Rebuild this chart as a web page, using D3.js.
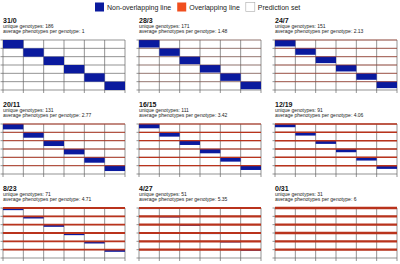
<!DOCTYPE html>
<html lang="en">
  <head>
    <meta charset="UTF-8" />
    <title>Training set designs</title>
    <style>
      body {
        margin: 0;
        background: #fff;
        font-family: "Liberation Sans", Arial, sans-serif;
      }
      svg {
        display: block;
      }
      .grid line {
        stroke: #666;
        stroke-width: 0.7px;
      }
      .title {
        font-weight: bold;
        font-size: 7px;
        fill: #111;
      }
      .info {
        font-size: 5px;
        fill: #222;
      }
      .legend text {
        font-size: 7px;
        fill: #222;
      }
    </style>
  </head>
  <body>
    <svg id="chart"></svg>

    <script src="https://d3js.org/d3.v7.min.js"></script>
    <script>
      const width = 400;
      const height = 264;

      // one panel per design: non-overlapping / overlapping lines per environment
      const nonOverlapping = [31, 28, 24, 20, 16, 12, 8, 4, 0];
      const overlapping = [0, 3, 7, 11, 15, 19, 23, 27, 31];
      const uniqueGenotypes = [186, 171, 151, 131, 111, 91, 71, 51, 31];
      const avgPhenotypes = ["1", "1.48", "2.13", "2.77", "3.42", "4.06", "4.71", "5.35", "6"];
      const environments = [0, 1, 2, 3, 4, 5];
      const legendItems = ["Non-overlapping line", "Overlapping line", "Prediction set"];

      const blue = "#0a1a9e";
      const red = "#b9331c";
      const legendColors = [blue, "#f04e1e", "#ffffff"];

      const linesPerEnv = 31;
      const panelW = 122;
      const panelH = 50;
      const colStep = 136;
      const rowStep = 84;
      const left0 = 3;
      const top0 = 40;

      const svg = d3
        .select("#chart")
        .attr("width", width)
        .attr("height", height)
        .attr("viewBox", `0 0 ${width} ${height}`);

      // legend, laid out left to right from measured text widths
      const legend = svg
        .append("g")
        .attr("class", "legend")
        .selectAll("g")
        .data(legendItems)
        .join("g");

      legend
        .append("rect")
        .attr("width", 9)
        .attr("height", 9)
        .attr("y", 2.5)
        .attr("fill", (d, i) => legendColors[i])
        .attr("stroke", (d, i) => (i === 2 ? "#aaa" : "none"))
        .attr("stroke-width", 0.6);

      legend
        .append("text")
        .attr("x", 12)
        .attr("y", 9.5)
        .text((d) => d);

      let lx = 95;
      legend.each(function () {
        const w = d3.select(this).select("text").node().getComputedTextLength();
        d3.select(this).attr("transform", `translate(${lx},0)`);
        lx += 12 + w + 6;
      });

      nonOverlapping.forEach((n, p) => {
        const m = overlapping[p];
        const px = left0 + (p % 3) * colStep;
        const py = top0 + Math.floor(p / 3) * rowStep;

        const x = d3.scaleLinear().domain([0, 6]).range([px, px + panelW]);
        const y = d3.scaleLinear().domain([0, 6]).range([py, py + panelH]);
        const rowH = y(1) - y(0);

        const g = svg.append("g");

        g.append("text")
          .attr("class", "title")
          .attr("x", px)
          .attr("y", py - 17.5)
          .text(`${n}/${m}`);

        g.append("text")
          .attr("class", "info")
          .attr("x", px)
          .attr("y", py - 12)
          .text(`unique genotypes: ${uniqueGenotypes[p]}`);

        g.append("text")
          .attr("class", "info")
          .attr("x", px)
          .attr("y", py - 7)
          .text(`average phenotypes per genotype: ${avgPhenotypes[p]}`);

        // grid with outward ticks
        const grid = g.append("g").attr("class", "grid");
        const ticks = d3.range(7);

        grid
          .selectAll("line.v")
          .data(ticks)
          .join("line")
          .attr("class", "v")
          .attr("x1", (d) => x(d))
          .attr("x2", (d) => x(d))
          .attr("y1", y(0))
          .attr("y2", y(6) + 3);

        grid
          .selectAll("line.h")
          .data(ticks)
          .join("line")
          .attr("class", "h")
          .attr("x1", x(0) - 2.5)
          .attr("x2", x(6))
          .attr("y1", (d) => y(d))
          .attr("y2", (d) => y(d));

        // non-overlapping lines: one block per environment
        if (n > 0) {
          g.selectAll("rect.blk")
            .data(environments)
            .join("rect")
            .attr("class", "blk")
            .attr("x", (d) => x(d))
            .attr("y", (d) => y(d))
            .attr("width", x(1) - x(0))
            .attr("height", (rowH * n) / linesPerEnv)
            .attr("fill", blue);
        }

        // overlapping lines: shared by all environments
        if (m > 0) {
          g.selectAll("line.ov")
            .data(environments)
            .join("line")
            .attr("class", "ov")
            .attr("x1", x(0))
            .attr("x2", x(6))
            .attr("y1", (d) => y(d))
            .attr("y2", (d) => y(d))
            .attr("stroke", red)
            .attr("stroke-width", (2.4 * m) / linesPerEnv);
        }
      });
    </script>
  </body>
</html>
